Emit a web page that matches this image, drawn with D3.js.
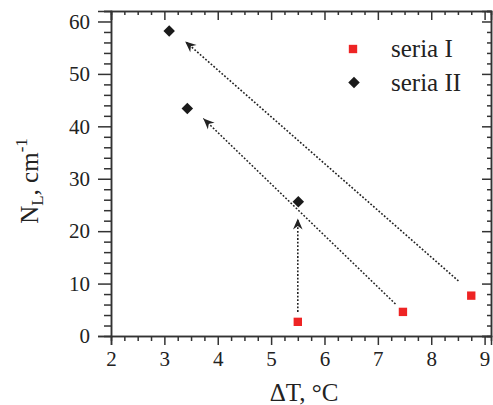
<!DOCTYPE html>
<html>
<head>
<meta charset="utf-8">
<script src="https://cdn.jsdelivr.net/npm/d3@7"></script>
<style>
  body { margin: 0; background: #fff; }
  svg text { font-family: "Liberation Serif", "Times New Roman", serif; fill: #222; }
  .axis path, .axis line { stroke: #333; stroke-width: 1.5; }
</style>
</head>
<body>
<script>
// data
const seriaI_x = [5.5, 7.47, 8.75];
const seriaI_y = [2.7, 4.6, 7.7];
const seriaII_x = [3.09, 3.43, 5.51];
const seriaII_y = [58.2, 43.4, 25.6];

// arrows: start -> tip, in data units
const arrowFrom = [[5.5, 4.6], [7.33, 6.1], [8.51, 10.5]];
const arrowTo = [[5.5, 22.4], [3.73, 41.5], [3.39, 56.2]];

const xTicks = [2, 3, 4, 5, 6, 7, 8, 9];
const yTicks = [0, 10, 20, 30, 40, 50, 60];
const legendLabels = ["seria I", "seria II"];

const serif = '"Liberation Serif", "Times New Roman", serif';
const W = 493, H = 405;
const margin = {top: 11, right: 2, bottom: 69, left: 111};
const width = W - margin.left - margin.right;
const height = H - margin.top - margin.bottom;

const svg = d3.select("body").append("svg")
    .attr("width", W)
    .attr("height", H);

const defs = svg.append("defs");
defs.append("marker")
    .attr("id", "head")
    .attr("markerUnits", "userSpaceOnUse")
    .attr("viewBox", "-12 -6 13 12")
    .attr("refX", 0)
    .attr("refY", 0)
    .attr("markerWidth", 13)
    .attr("markerHeight", 12)
    .attr("orient", "auto")
    .append("path")
    .attr("d", "M0,0 L-11,-4.8 L-7.5,0 L-11,4.8 Z")
    .attr("fill", "#222");

const g = svg.append("g")
    .attr("transform", "translate(" + margin.left + "," + margin.top + ")");

const x = d3.scaleLinear().domain([2, 9.12]).range([0, width]);
const y = d3.scaleLinear().domain([0, 62]).range([height, 0]);

const minorX = d3.range(2, 9.13, 0.25).filter(v => Math.abs(v - Math.round(v)) > 1e-6);
const minorY = d3.range(0, 63, 2).filter(v => v % 10 != 0);

function serifLabels(a) {
    a.attr("font-family", serif).attr("font-size", 21);
    a.selectAll("text")
        .attr("font-family", serif)
        .style("font-family", serif)
        .attr("font-size", 21)
        .attr("fill", "#222");
}

// bottom axis
g.append("g").attr("class", "axis")
    .attr("transform", "translate(0," + height + ")")
    .call(d3.axisBottom(x).tickValues(minorX).tickSize(5).tickFormat(""));
g.append("g").attr("class", "axis")
    .attr("transform", "translate(0," + height + ")")
    .call(d3.axisBottom(x).tickValues(xTicks).tickSize(9).tickPadding(6).tickFormat(d3.format("d")))
    .call(serifLabels);

// left axis
g.append("g").attr("class", "axis")
    .call(d3.axisLeft(y).tickValues(minorY).tickSize(7).tickFormat(""));
g.append("g").attr("class", "axis")
    .call(d3.axisLeft(y).tickValues(yTicks).tickSize(13).tickPadding(8).tickFormat(d3.format("d")))
    .call(serifLabels);

// top axis (ticks inward)
g.append("g").attr("class", "axis")
    .call(d3.axisBottom(x).tickValues(minorX).tickSize(4).tickFormat(""));
g.append("g").attr("class", "axis")
    .call(d3.axisBottom(x).tickValues(xTicks).tickSize(9).tickFormat(""));

// right axis (ticks inward)
g.append("g").attr("class", "axis")
    .attr("transform", "translate(" + width + ",0)")
    .call(d3.axisLeft(y).tickValues(minorY).tickSize(4).tickFormat(""));
g.append("g").attr("class", "axis")
    .attr("transform", "translate(" + width + ",0)")
    .call(d3.axisLeft(y).tickValues(yTicks).tickSize(9).tickFormat(""));

g.selectAll(".axis path.domain").attr("stroke-width", 1.6);

// arrows
g.selectAll(".arrow")
    .data(arrowFrom)
    .join("line")
    .attr("class", "arrow")
    .attr("x1", d => x(d[0]))
    .attr("y1", d => y(d[1]))
    .attr("x2", (d, i) => x(arrowTo[i][0]))
    .attr("y2", (d, i) => y(arrowTo[i][1]))
    .attr("stroke", "#222")
    .attr("stroke-width", 1.6)
    .attr("stroke-dasharray", "1.8,1.8")
    .attr("marker-end", "url(#head)");

// series I - red squares
const sq = d3.symbol(d3.symbolSquare, 70);
g.selectAll(".s1")
    .data(seriaI_x)
    .join("path")
    .attr("class", "s1")
    .attr("d", sq)
    .attr("transform", (d, i) => "translate(" + x(d) + "," + y(seriaI_y[i]) + ")")
    .attr("fill", "#ee2424");

// series II - black diamonds
const dm = d3.symbol(d3.symbolSquare, 66);
g.selectAll(".s2")
    .data(seriaII_x)
    .join("path")
    .attr("class", "s2")
    .attr("d", dm)
    .attr("transform", (d, i) => "translate(" + x(d) + "," + y(seriaII_y[i]) + ") rotate(45)")
    .attr("fill", "#1a1a1a");

// legend
const leg = svg.append("g").attr("transform", "translate(353,49)");
leg.append("path").attr("d", sq).attr("fill", "#ee2424");
leg.append("path").attr("d", dm)
    .attr("transform", "translate(1,33.5) rotate(45)")
    .attr("fill", "#1a1a1a");
leg.selectAll("text")
    .data(legendLabels)
    .join("text")
    .attr("x", 38)
    .attr("y", (d, i) => 8 + i * 34)
    .attr("font-size", 25)
    .text(d => d);

// axis titles
svg.append("text")
    .attr("x", margin.left + width / 2 + 3)
    .attr("y", 401)
    .attr("text-anchor", "middle")
    .attr("font-size", 25)
    .text("ΔT, °C");

const yt = svg.append("text")
    .attr("transform", "translate(38,181) rotate(-90)")
    .attr("text-anchor", "middle")
    .attr("font-size", 25);
yt.append("tspan").text("N");
yt.append("tspan").attr("font-size", 17).attr("dy", 5).text("L");
yt.append("tspan").attr("dy", -5).text(", cm");
yt.append("tspan").attr("font-size", 17).attr("dy", -11).text("-1");
</script>
</body>
</html>
